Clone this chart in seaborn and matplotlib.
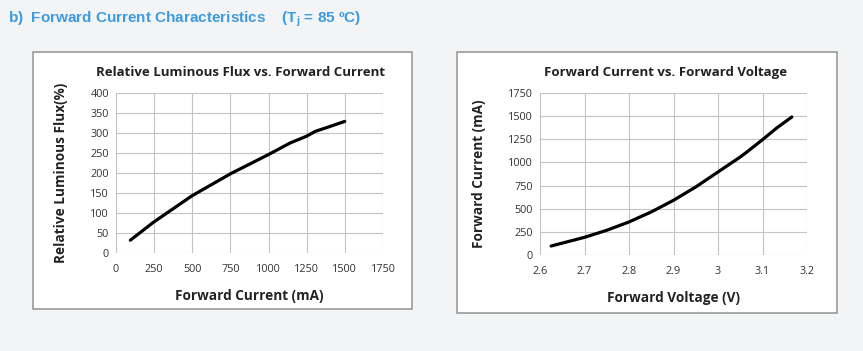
import matplotlib
matplotlib.use("Agg")
import matplotlib.pyplot as plt
import seaborn as sns
import pandas as pd
from matplotlib.patches import Rectangle

# Data
flux_current = [94, 246, 498, 750, 999, 1141, 1249, 1306, 1400, 1499]
flux_rel = [32, 77, 143, 198, 246, 275, 292, 304, 316, 329]

fv_voltage = [2.625, 2.7, 2.75, 2.8, 2.85, 2.9, 2.95, 3.0, 3.05, 3.065, 3.1, 3.133, 3.166]
fv_current = [97, 191, 267, 357, 465, 591, 735, 897, 1059, 1113, 1246, 1376, 1491]

left_xticks = [0, 250, 500, 750, 1000, 1250, 1500, 1750]
left_yticks = [0, 50, 100, 150, 200, 250, 300, 350, 400]
right_xticks = [2.6, 2.7, 2.8, 2.9, 3.0, 3.1, 3.2]
right_xlabels = ["2.6", "2.7", "2.8", "2.9", "3", "3.1", "3.2"]
right_yticks = [0, 250, 500, 750, 1000, 1250, 1500, 1750]

sns.set_theme(style="white")
plt.rcParams['font.family'] = ['Open Sans', 'DejaVu Sans']

W, H = 863, 351
fig = plt.figure(figsize=(W / 100, H / 100), dpi=100)
fig.patch.set_facecolor("#f3f4f6")

def box(x0, y0, x1, y1):
    fig.patches.append(Rectangle((x0 / W, 1 - y1 / H), (x1 - x0) / W, (y1 - y0) / H,
                                 transform=fig.transFigure, facecolor="white",
                                 edgecolor="#9a9a9a", linewidth=1.2, zorder=-10))

box(33, 52, 412, 309)
box(457, 52, 837, 313)

fig.text(8 / W, 1 - 19 / H, "b)  Forward Current Characteristics    (T$_\\mathregular{j}$ = 85 ºC)",
         color="#3d9be0", fontsize=11, fontweight="bold", va="center", ha="left",
         family="Liberation Sans")

def axes_px(x0, y0, x1, y1):
    return fig.add_axes([x0 / W, 1 - y1 / H, (x1 - x0) / W, (y1 - y0) / H])

grid_c = "#c4c4c4"

def style(ax):
    ax.set_facecolor("white")
    for s in ax.spines.values():
        s.set_visible(False)
    ax.grid(True, color=grid_c, linewidth=0.8)
    ax.tick_params(axis="both", length=0, labelsize=7.8, colors="#333333")
    ax.tick_params(axis="x", pad=8)
    ax.tick_params(axis="y", pad=5)
    ax.set_axisbelow(True)

# Left chart
ax1 = axes_px(116, 93, 383, 253)
df1 = pd.DataFrame({"x": flux_current, "y": flux_rel})
sns.lineplot(data=df1, x="x", y="y", ax=ax1, color="black", linewidth=2.3, sort=False)
ax1.set_xlim(0, 1750)
ax1.set_ylim(0, 400)
ax1.set_xticks(left_xticks)
ax1.set_yticks(left_yticks)
style(ax1)
ax1.set_xlabel("Forward Current (mA)", fontsize=9.8, fontweight="bold", labelpad=10, color="#222222")
ax1.set_ylabel("Relative Luminous Flux(%)", fontsize=9.8, fontweight="bold", labelpad=16, color="#222222")
ax1.set_title("Relative Luminous Flux vs. Forward Current", fontsize=9.5, fontweight="bold",
              pad=12, color="#222222", x=0.468)

# Right chart
ax2 = axes_px(540, 93, 807, 255)
df2 = pd.DataFrame({"x": fv_voltage, "y": fv_current})
sns.lineplot(data=df2, x="x", y="y", ax=ax2, color="black", linewidth=2.3, sort=False)
ax2.set_xlim(2.6, 3.2)
ax2.set_ylim(0, 1750)
ax2.set_xticks(right_xticks)
ax2.set_xticklabels(right_xlabels)
ax2.set_yticks(right_yticks)
style(ax2)
ax2.set_xlabel("Forward Voltage (V)", fontsize=9.8, fontweight="bold", labelpad=10, color="#222222")
ax2.set_ylabel("Forward Current (mA)", fontsize=9.8, fontweight="bold", labelpad=16, color="#222222")
ax2.set_title("Forward Current vs. Forward Voltage", fontsize=9.5, fontweight="bold",
              pad=12, color="#222222", x=0.472)

fig.savefig("out.png", dpi=100, facecolor=fig.get_facecolor())
